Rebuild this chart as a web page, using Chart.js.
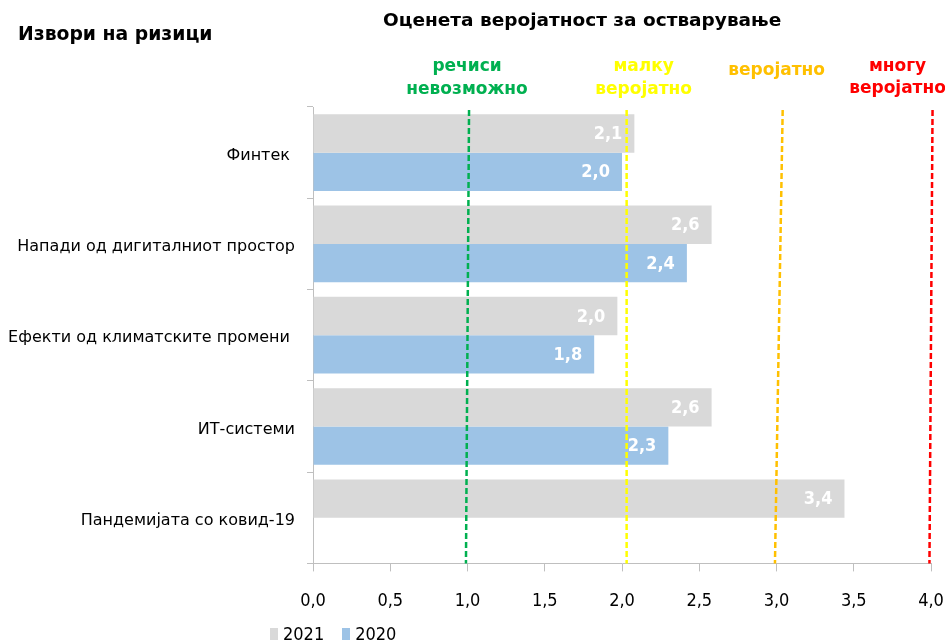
<!DOCTYPE html>
<html>
<head>
<meta charset="utf-8">
<script src="https://cdn.jsdelivr.net/npm/chart.js@4/dist/chart.umd.min.js"></script>
<style>
  body { margin: 0; background: #fff; }
  #wrap { position: relative; width: 945px; height: 643px; overflow: hidden; }
  .hdr { position: absolute; font-family: "DejaVu Sans", sans-serif; font-weight: bold; color: #000; white-space: nowrap; }
  #legend { position: absolute; left: 270px; top: 623px; font-family: "DejaVu Sans Condensed", "DejaVu Sans", sans-serif; font-size: 18px; color: #000; display: flex; align-items: center; }
  #legend span.box { display: inline-block; width: 8px; height: 12px; margin-right: 5px; }
  #legend span.lbl { margin-right: 18px; }
</style>
</head>
<body>
<div id="wrap">
  <canvas id="chart" width="945" height="643"></canvas>
  <div class="hdr" style="left:18px; top:23px; font-size:18.8px;">Извори на ризици</div>
  <div class="hdr" style="left:383px; top:9px; font-size:18.5px;">Оценета веројатност за остварување</div>
  <div id="legend"></div>
</div>
<script>
// ═══ data ═══
const categories = ['Финтек ', 'Напади од дигиталниот простор', 'Ефекти од климатските промени ', 'ИТ-системи', 'Пандемијата со ковид-19'];
const seriesNames = ['2021', '2020'];
const values2021 = [2.08, 2.58, 1.97, 2.58, 3.44];
const values2020 = [2.0, 2.42, 1.82, 2.3, null];
const xTicks = [0, 0.5, 1, 1.5, 2, 2.5, 3, 3.5, 4];
// threshold lines: value at top and at bottom of the plot
const thresholdTop = [1.01, 2.03, 3.04, 4.01];
const thresholdBottom = [0.99, 2.03, 2.99, 3.99];
const thresholdLabels = [['речиси', 'невозможно'], ['малку', 'веројатно'], ['веројатно'], ['многу', 'веројатно']];

const thresholdColors = ['#00B050', '#FFFF00', '#FFC000', '#FF0000'];
const labelShift = [-2, 17, -6, -35];
const labelRowsY = [[67, 90], [67, 90], [71], [67, 89]];

const fmt = v => v.toFixed(1).replace('.', ',');

const thresholdPlugin = {
    id: 'thresholds',
    afterDatasetsDraw: function (chart) {
        const ctx = chart.ctx;
        const xs = chart.scales.x;
        const area = chart.chartArea;
        ctx.save();
        thresholdTop.forEach(function (t, i) {
            const x1 = xs.getPixelForValue(t);
            const x2 = xs.getPixelForValue(thresholdBottom[i]);
            ctx.strokeStyle = thresholdColors[i];
            ctx.lineWidth = 2.5;
            ctx.setLineDash([6, 3]);
            ctx.beginPath();
            ctx.moveTo(x1, area.top + 3);
            ctx.lineTo(x2, area.bottom);
            ctx.stroke();
            ctx.setLineDash([]);
            ctx.fillStyle = thresholdColors[i];
            ctx.font = 'bold 17px "DejaVu Sans", sans-serif';
            ctx.textAlign = 'center';
            ctx.textBaseline = 'middle';
            thresholdLabels[i].forEach(function (line, j) {
                ctx.fillText(line, x1 + labelShift[i], labelRowsY[i][j]);
            });
        });
        ctx.restore();
    }
};

const barLabelPlugin = {
    id: 'barLabels',
    afterDatasetsDraw: function (chart) {
        const ctx = chart.ctx;
        ctx.save();
        ctx.fillStyle = '#fff';
        ctx.font = 'bold 18px "DejaVu Sans Condensed", "DejaVu Sans", sans-serif';
        ctx.textAlign = 'right';
        ctx.textBaseline = 'middle';
        chart.data.datasets.forEach(function (ds, di) {
            chart.getDatasetMeta(di).data.forEach(function (el, i) {
                const v = ds.data[i];
                if (v === null || v === undefined) return;
                ctx.fillText(fmt(v), el.x - 12, el.y + 1);
            });
        });
        ctx.restore();
    }
};

const colors = ['#D9D9D9', '#9DC3E6'];

const chart = new Chart(document.getElementById('chart'), {
    type: 'bar',
    data: {
        labels: categories,
        datasets: [
            { label: seriesNames[0], data: values2021, backgroundColor: colors[0], categoryPercentage: 0.84, barPercentage: 1.0 },
            { label: seriesNames[1], data: values2020, backgroundColor: colors[1], categoryPercentage: 0.84, barPercentage: 1.0 }
        ]
    },
    options: {
        indexAxis: 'y',
        responsive: false,
        animation: false,
        layout: { padding: { left: 0, right: 14, top: 107, bottom: 12 } },
        plugins: { legend: { display: false }, tooltip: { enabled: false } },
        scales: {
            x: {
                min: 0, max: 4,
                afterBuildTicks: function (axis) { axis.ticks = xTicks.map(v => ({ value: v })); },
                afterFit: function (axis) { axis.paddingRight = 0; axis.paddingLeft = 0; },
                ticks: {
                    callback: v => fmt(v),
                    color: '#000',
                    padding: 19,
                    maxRotation: 0,
                    font: { family: '"DejaVu Sans Condensed", "DejaVu Sans", sans-serif', size: 18 }
                },
                grid: { drawOnChartArea: false, tickLength: 8, color: '#BFBFBF' },
                border: { color: '#BFBFBF' }
            },
            y: {
                afterFit: function (axis) { axis.width = 313; },
                ticks: {
                    color: '#000',
                    padding: 12,
                    labelOffset: 3,
                    font: { family: '"DejaVu Sans", sans-serif', size: 16 }
                },
                grid: { drawOnChartArea: false, tickLength: 6, color: '#BFBFBF' },
                border: { color: '#BFBFBF' }
            }
        }
    },
    plugins: [thresholdPlugin, barLabelPlugin]
});

// legend
const leg = document.getElementById('legend');
seriesNames.forEach(function (name, i) {
    leg.insertAdjacentHTML('beforeend', '<span class="box" style="background:' + colors[i] + '"></span><span class="lbl">' + name + '</span>');
});
</script>
</body>
</html>
